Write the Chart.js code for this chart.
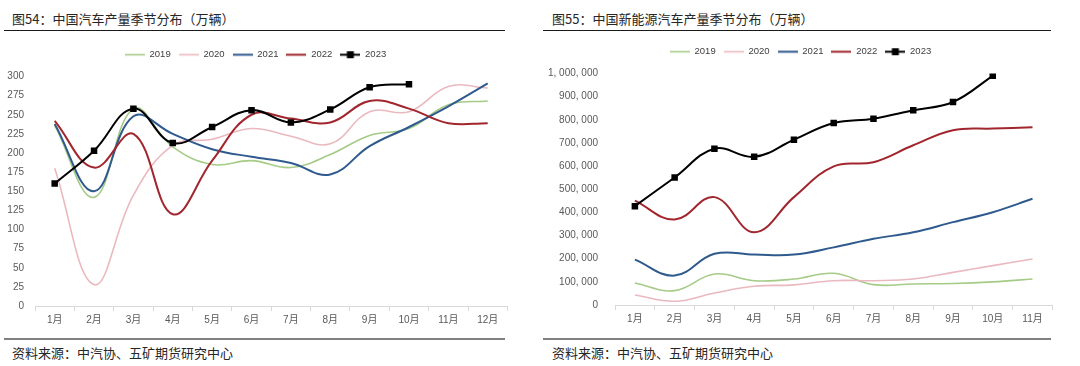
<!DOCTYPE html>
<html>
<head>
<meta charset="utf-8">
<script src="https://cdn.jsdelivr.net/npm/chart.js@4.4.0/dist/chart.umd.min.js"></script>
<style>
  body { margin: 0; width: 1080px; height: 366px; background: #fff; position: relative; overflow: hidden;
         font-family: "Noto Sans CJK SC", sans-serif; }
  .title { position: absolute; top: 9px; font-size: 13px; color: #262626; white-space: nowrap; }
  .source { position: absolute; top: 343px; font-size: 13px; color: #262626; white-space: nowrap; }
  .rule { position: absolute; height: 0; }
  .box { position: absolute; top: 36px; height: 294px; }
</style>
</head>
<body>
<div class="title" style="left:12px">图54：中国汽车产量季节分布（万辆）</div>
<div class="title" style="left:552px">图55：中国新能源汽车产量季节分布（万辆）</div>
<div class="rule" style="left:4px; width:501px; top:30px; border-top:1px solid #1a1a1a"></div>
<div class="rule" style="left:543px; width:508px; top:30px; border-top:1px solid #1a1a1a"></div>
<div class="box" style="left:0; width:512px"><canvas id="car"></canvas></div>
<div class="box" style="left:545px; width:512px"><canvas id="nev"></canvas></div>
<div class="rule" style="left:4px; width:501px; top:338px; border-top:2px solid #808080"></div>
<div class="rule" style="left:543px; width:508px; top:338px; border-top:2px solid #808080"></div>
<div class="source" style="left:12px">资料来源：中汽协、五矿期货研究中心</div>
<div class="source" style="left:552px">资料来源：中汽协、五矿期货研究中心</div>

<script>
// 月份
var monthsCar = ['1月', '2月', '3月', '4月', '5月', '6月', '7月', '8月', '9月', '10月', '11月', '12月'];
var monthsNev = ['1月', '2月', '3月', '4月', '5月', '6月', '7月', '8月', '9月', '10月', '11月'];
var years = ['2019', '2020', '2021', '2022', '2023'];

// 中国汽车产量（万辆）
var car2019 = [236, 142, 258, 208, 185, 190, 181, 198, 223, 232, 263, 268];
var car2020 = [180, 28, 145, 210, 218, 232, 222, 212, 254, 254, 287, 285];
var car2021 = [238, 150, 248, 225, 205, 195, 187, 172, 209, 234, 261, 291];
var car2022 = [242, 181, 225, 120, 190, 250, 245, 240, 268, 258, 239, 239];
var car2023 = [160, 203, 258, 213, 234, 256, 240, 257, 286, 290];

// 中国新能源汽车产量
var nev2019 = [95000, 62000, 134000, 105000, 112000, 137000, 88000, 91000, 93000, 100000, 112000];
var nev2020 = [43000, 16000, 52000, 81000, 87000, 105000, 105000, 112000, 141000, 170000, 199000];
var nev2021 = [196000, 127000, 221000, 218000, 218000, 249000, 286000, 314000, 358000, 401000, 459000];
var nev2022 = [451000, 369000, 466000, 314000, 466000, 599000, 617000, 690000, 755000, 762000, 768000];
var nev2023 = [427000, 551000, 675000, 640000, 714000, 786000, 805000, 841000, 877000, 990000];

var colors = ['#a5cb87', '#eab9bf', '#2f5a8e', '#a1262e', '#000000'];
var widths = [1.6, 1.6, 2, 2, 2];

var tickFont = { family: '"Liberation Sans", "Noto Sans CJK SC", sans-serif', size: 10 };
var tickColor = '#595959';

// legend icons: short line, square marker on 2023
function legendIcon(i) {
    var c = document.createElement('canvas');
    c.width = 20; c.height = 9;
    var g = c.getContext('2d');
    g.strokeStyle = colors[i];
    g.lineWidth = widths[i];
    g.beginPath(); g.moveTo(0, 4.5); g.lineTo(20, 4.5); g.stroke();
    if (i === 4) {
        g.fillStyle = colors[i];
        g.fillRect(6.5, 1, 7, 7);
    }
    return c;
}
var icons = years.map(function(y, i) { return legendIcon(i); });

function makeDatasets(series) {
    return series.map(function(data, i) {
        return {
            label: years[i],
            data: data,
            borderColor: colors[i],
            backgroundColor: colors[i],
            borderWidth: widths[i],
            tension: 0.4,
            pointStyle: 'rect',
            pointRadius: i === 4 ? 4.6 : 0,
            pointBorderWidth: 0,
            order: 4 - i
        };
    });
}

function plot(canvasId, labels, series, yMax, yStep, yWidth, yPad, fmt, pad, legendGap) {
    var ctx = document.getElementById(canvasId).getContext('2d');
    new Chart(ctx, {
        type: 'line',
        data: { labels: labels, datasets: makeDatasets(series) },
        plugins: [{
            // extra room under the legend
            id: 'legendGap',
            beforeInit: function(chart) {
                var fit = chart.legend.fit;
                chart.legend.fit = function() {
                    fit.call(this);
                    this.height += legendGap;
                };
            }
        }],
        options: {
            responsive: true,
            maintainAspectRatio: false,
            animation: false,
            layout: { padding: pad },
            plugins: {
                tooltip: { enabled: false },
                legend: {
                    position: 'top',
                    labels: {
                        usePointStyle: true,
                        pointStyleWidth: 20,
                        padding: 8,
                        color: '#404040',
                        font: { family: '"Liberation Sans Narrow", "Liberation Sans", sans-serif', size: 9.5 },
                        generateLabels: function(chart) {
                            var items = Chart.defaults.plugins.legend.labels.generateLabels(chart);
                            items.forEach(function(it) { it.pointStyle = icons[it.datasetIndex]; });
                            items.sort(function(a, b) { return a.datasetIndex - b.datasetIndex; });
                            return items;
                        }
                    }
                }
            },
            scales: {
                x: {
                    offset: true,
                    grid: { display: true, offset: true, drawOnChartArea: false, drawTicks: true, tickLength: 5, color: '#d9d9d9' },
                    border: { display: true, color: '#d9d9d9' },
                    ticks: { color: tickColor, font: tickFont, padding: 3, maxRotation: 0, autoSkip: false }
                },
                y: {
                    min: 0,
                    max: yMax,
                    afterFit: function(s) { s.width = yWidth; },
                    grid: { display: false, drawTicks: false },
                    border: { display: false },
                    ticks: { stepSize: yStep, color: tickColor, font: tickFont, padding: yPad, callback: fmt }
                }
            }
        }
    });
}

plot('car', monthsCar, [car2019, car2020, car2021, car2022, car2023], 300, 25, 35, 11,
    function(v) { return v; }, { left: 0, right: 1, top: 6, bottom: 1 }, 7);

plot('nev', monthsNev, [nev2019, nev2020, nev2021, nev2022, nev2023], 1000000, 100000, 70, 17,
    function(v) { return v.toLocaleString('en-US').replace(/,/g, ', '); }, { left: 0, right: 1, top: 3, bottom: 2 }, 7);
</script>
</body>
</html>
